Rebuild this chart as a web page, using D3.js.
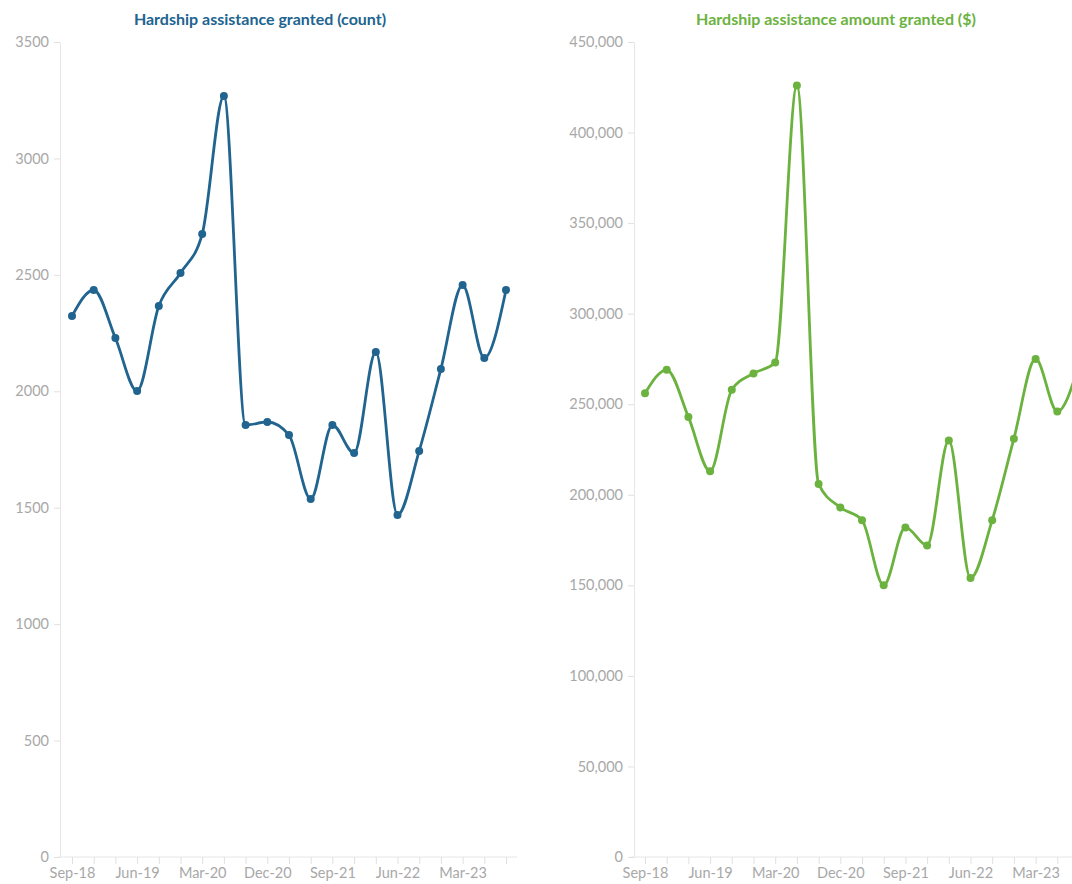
<!DOCTYPE html>
<html>
<head>
<meta charset="utf-8">
<script src="https://cdn.jsdelivr.net/npm/d3@7"></script>
<style>
  body { margin: 0; background: #fff; }
  svg text { font-family: Lato, "Open Sans", sans-serif; }
</style>
</head>
<body>
<div id="container"></div>
<script>
// Two small multiples: hardship assistance count and amount, quarterly

const width = 1072;
const height = 884;

const quarters = ["Sep-18", "Dec-18", "Mar-19", "Jun-19", "Sep-19", "Dec-19", "Mar-20", "Jun-20",
    "Sep-20", "Dec-20", "Mar-21", "Jun-21", "Sep-21", "Dec-21", "Mar-22", "Jun-22",
    "Sep-22", "Dec-22", "Mar-23", "Jun-23", "Sep-23"];
const shownLabels = ["Sep-18", "Jun-19", "Mar-20", "Dec-20", "Sep-21", "Jun-22", "Mar-23"];

const countValues = [2323, 2435, 2229, 2001, 2366, 2508, 2675, 3268, 1855, 1868, 1812, 1537,
    1855, 1735, 2169, 1469, 1744, 2096, 2456, 2143, 2435];
const amountValues = [256000, 269000, 243000, 213000, 258000, 267000, 273000, 426000, 206000,
    193000, 186000, 150000, 182000, 172000, 230000, 154000, 186000, 231000, 275000, 246000, 272000];

const countTicks = [0, 500, 1000, 1500, 2000, 2500, 3000, 3500];
const amountTicks = [0, 50000, 100000, 150000, 200000, 250000, 300000, 350000, 400000, 450000];

const svg = d3.select("#container")
    .append("svg")
    .attr("width", width)
    .attr("height", height)
    .style("background-color", "white");

const panels = [
    { title: "Hardship assistance granted (count)", values: countValues, ticks: countTicks,
      fmt: d3.format("d"), color: "#21648f", axisX: 60, x0: 72, x1: 506, lineX0: 58, lineX1: 517, titleX: 260 },
    { title: "Hardship assistance amount granted ($)", values: amountValues, ticks: amountTicks,
      fmt: d3.format(","), color: "#6bb23f", axisX: 634, x0: 645, x1: 1079, lineX0: 631, lineX1: 1090, titleX: 836 }
];

const yTop = 42, yBottom = 857;

panels.forEach(p => {
    const g = svg.append("g");

    const x = d3.scalePoint().domain(quarters).range([p.x0, p.x1]);
    const y = d3.scaleLinear().domain([0, d3.max(p.ticks)]).range([yBottom, yTop]);

    // title
    g.append("text")
        .attr("x", p.titleX)
        .attr("y", 25)
        .attr("text-anchor", "middle")
        .style("font-size", "16px")
        .style("font-weight", "bold")
        .attr("fill", p.color)
        .text(p.title);

    // y axis
    const yAxis = g.append("g")
        .attr("transform", `translate(${p.axisX},0)`)
        .call(d3.axisLeft(y).tickValues(p.ticks).tickFormat(p.fmt).tickSize(6).tickSizeOuter(0).tickPadding(5));
    yAxis.select(".domain").attr("stroke", "#e6e6e6");
    yAxis.selectAll(".tick line").attr("stroke", "#e0e0e0");
    yAxis.selectAll(".tick text")
        .attr("fill", "#a8a8a8")
        .style("font-size", "14.5px")
        .style("font-family", "Lato, sans-serif");

    // x axis baseline
    g.append("line")
        .attr("x1", p.lineX0).attr("x2", p.lineX1)
        .attr("y1", yBottom).attr("y2", yBottom)
        .attr("stroke", "#e6e6e6");

    const xAxis = g.append("g")
        .attr("transform", `translate(0,${yBottom})`)
        .call(d3.axisBottom(x).tickSize(7).tickPadding(4)
            .tickFormat(d => shownLabels.includes(d) ? d : ""));
    xAxis.select(".domain").remove();
    xAxis.selectAll(".tick line").attr("stroke", "#e0e0e0");
    xAxis.selectAll(".tick text")
        .attr("fill", "#a8a8a8")
        .style("font-size", "14.5px")
        .style("font-family", "Lato, sans-serif");

    const data = quarters.map((q, i) => ({ q, v: p.values[i] }));

    const line = d3.line()
        .x(d => x(d.q))
        .y(d => y(d.v))
        .curve(d3.curveMonotoneX);

    g.append("path")
        .datum(data)
        .attr("fill", "none")
        .attr("stroke", p.color)
        .attr("stroke-width", 2.8)
        .attr("stroke-linejoin", "round")
        .attr("d", line);

    g.selectAll("circle.pt")
        .data(data)
        .join("circle")
        .attr("class", "pt")
        .attr("cx", d => x(d.q))
        .attr("cy", d => y(d.v))
        .attr("r", 4)
        .attr("fill", p.color);
});
</script>
</body>
</html>
